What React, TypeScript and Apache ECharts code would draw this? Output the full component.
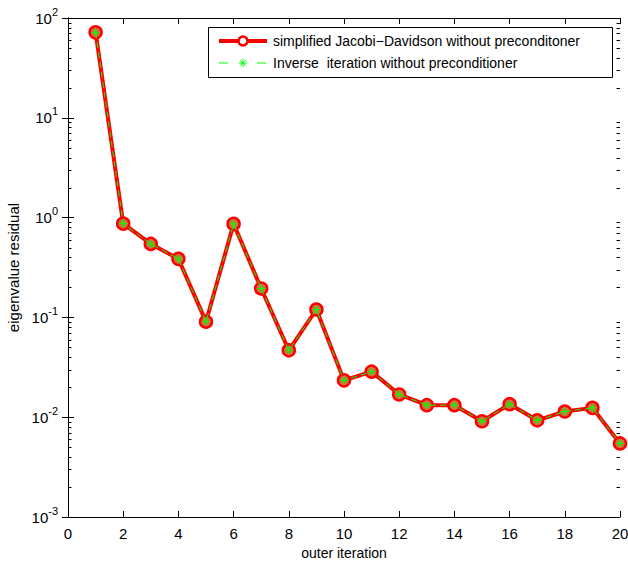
import React, { useEffect, useRef } from "react";
import * as echarts from "echarts";

const iterations = [1, 2, 3, 4, 5, 6, 7, 8, 9, 10, 11, 12, 13, 14, 15, 16, 17, 18, 19, 20];
const jacobiDavidson = [71.8, 0.87, 0.545, 0.386, 0.0906, 0.865, 0.195, 0.0468, 0.12, 0.0234, 0.0286, 0.0169, 0.0132, 0.0132, 0.0091, 0.0135, 0.0093, 0.0114, 0.0124, 0.00546];
const inverseIteration = [71.8, 0.87, 0.545, 0.386, 0.0906, 0.865, 0.195, 0.0468, 0.12, 0.0234, 0.0286, 0.0169, 0.0132, 0.0132, 0.0091, 0.0135, 0.0093, 0.0114, 0.0124, 0.00546];
const seriesNames = [
  "simplified Jacobi\u2212Davidson without preconditoner",
  "Inverse  iteration without preconditioner",
];
const decades = [-3, -2, -1, 0, 1];
const minorMultipliers = [2, 3, 4, 5, 6, 7, 8, 9];

const FONT = "Liberation Sans, Arial, Helvetica, sans-serif";
const STAR = "path://M0,-10L0,10M-10,0L10,0M-7.07,-7.07L7.07,7.07M-7.07,7.07L7.07,-7.07";
const RED = "#ff0000";
const GREEN = "#00ff00";

function starLines(cx: number, cy: number, r: number) {
  const d = r * 0.707;
  const segs = [
    [cx, cy - r, cx, cy + r],
    [cx - r, cy, cx + r, cy],
    [cx - d, cy - d, cx + d, cy + d],
    [cx - d, cy + d, cx + d, cy - d],
  ];
  return segs.map((s) => ({
    type: "line",
    shape: { x1: s[0], y1: s[1], x2: s[2], y2: s[3] },
    style: { stroke: GREEN, lineWidth: 1 },
  }));
}

export default function App() {
  const ref = useRef<HTMLDivElement>(null);
  useEffect(() => {
    if (!ref.current) return;
    const chart = echarts.init(ref.current, undefined, { renderer: "svg" });
    const minorValues: number[][] = [];
    decades.forEach((d) => minorMultipliers.forEach((m) => minorValues.push([0, m * Math.pow(10, d)])));
    const fmt = (v: number) => {
      const e = Math.round(Math.log10(v));
      return `{b|10}{s|${e}}`;
    };
    const axisLine = { show: true, lineStyle: { color: "#000", width: 1 } };
    const lx = 208, ly = 27;
    const option: any = {
      animation: false,
      backgroundColor: "#fff",
      grid: { left: 68, right: 8, top: 18, bottom: 47, containLabel: false, outerBoundsMode: "none" },
      graphic: [
        {
          type: "group",
          z: 100,
          children: [
            { type: "rect", shape: { x: lx + 0.5, y: ly + 0.5, width: 404, height: 50 }, style: { fill: "#fff", stroke: "#000", lineWidth: 1 } },
            { type: "line", shape: { x1: lx + 11, y1: ly + 14, x2: lx + 59, y2: ly + 14 }, style: { stroke: RED, lineWidth: 4 } },
            { type: "circle", shape: { cx: lx + 35, cy: ly + 14, r: 4.5 }, style: { fill: "#fff", stroke: RED, lineWidth: 2.5 } },
            { type: "text", x: lx + 65, y: ly + 14, style: { text: seriesNames[0], font: `14px ${FONT}`, fill: "#000", verticalAlign: "middle", align: "left" } },
            { type: "line", shape: { x1: lx + 11, y1: ly + 36, x2: lx + 20, y2: ly + 36 }, style: { stroke: GREEN, lineWidth: 1 } },
            { type: "line", shape: { x1: lx + 49, y1: ly + 36, x2: lx + 58, y2: ly + 36 }, style: { stroke: GREEN, lineWidth: 1 } },
            ...starLines(lx + 35, ly + 36, 4),
            { type: "text", x: lx + 65, y: ly + 36, style: { text: seriesNames[1], font: `14px ${FONT}`, fill: "#000", verticalAlign: "middle", align: "left" } },
          ],
        },
      ],
      xAxis: [
        {
          type: "value",
          min: 0,
          max: 20,
          interval: 2,
          axisLine,
          axisTick: { inside: true, length: 6, lineStyle: { color: "#000" } },
          axisLabel: { fontFamily: FONT, fontSize: 15, color: "#000", margin: 9 },
          splitLine: { show: false },
          name: "outer iteration",
          nameLocation: "middle",
          nameGap: 29,
          nameTextStyle: { fontFamily: FONT, fontSize: 14, color: "#000" },
        },
        {
          type: "value",
          position: "top",
          min: 0,
          max: 20,
          interval: 2,
          axisLine,
          axisTick: { inside: true, length: 6, lineStyle: { color: "#000" } },
          axisLabel: { show: false },
          splitLine: { show: false },
        },
      ],
      yAxis: [
        {
          type: "log",
          logBase: 10,
          min: 0.001,
          max: 100,
          axisLine,
          axisTick: { inside: true, length: 6, lineStyle: { color: "#000" } },
          axisLabel: {
            formatter: fmt,
            margin: 10,
            rich: {
              b: { fontFamily: FONT, fontSize: 15, color: "#000" },
              s: { fontFamily: FONT, fontSize: 11, color: "#000", padding: [0, 0, 13, 0] },
            },
          },
          splitLine: { show: false },
          name: "eigenvalue residual",
          nameLocation: "middle",
          nameGap: 40,
          nameTextStyle: { fontFamily: FONT, fontSize: 15, color: "#000" },
        },
        {
          type: "log",
          logBase: 10,
          position: "right",
          min: 0.001,
          max: 100,
          axisLine,
          axisTick: { inside: true, length: 6, lineStyle: { color: "#000" } },
          axisLabel: { show: false },
          splitLine: { show: false },
        },
      ],
      series: [
        {
          type: "custom",
          silent: true,
          xAxisIndex: 0,
          yAxisIndex: 0,
          data: minorValues,
          clip: false,
          renderItem: (params: any, api: any) => {
            const cs = params.coordSys;
            const p = api.coord([0, api.value(1)]);
            const y = Math.round(p[1]) + 0.5;
            const x0 = cs.x;
            const x1 = cs.x + cs.width;
            return {
              type: "group",
              children: [
                { type: "line", shape: { x1: x0, y1: y, x2: x0 + 3.5, y2: y }, style: { stroke: "#000", lineWidth: 1 } },
                { type: "line", shape: { x1: x1 - 3.5, y1: y, x2: x1, y2: y }, style: { stroke: "#000", lineWidth: 1 } },
              ],
            };
          },
          z: 1,
        },
        {
          name: seriesNames[0],
          type: "line",
          data: iterations.map((x, i) => [x, jacobiDavidson[i]]),
          lineStyle: { color: RED, width: 4 },
          symbol: "circle",
          symbolSize: 12,
          itemStyle: { color: "#ff5050", borderColor: RED, borderWidth: 2.5 },
          z: 3,
        },
        {
          name: seriesNames[1],
          type: "line",
          data: iterations.map((x, i) => [x, inverseIteration[i]]),
          lineStyle: { color: GREEN, width: 1, type: [6, 4] },
          symbol: STAR,
          symbolSize: 9,
          symbolKeepAspect: true,
          itemStyle: { color: "transparent", borderColor: GREEN, borderWidth: 1 },
          z: 4,
        },
      ],
    };
    chart.setOption(option);
    return () => chart.dispose();
  }, []);
  return <div ref={ref} style={{ position: "fixed", left: 0, top: 0, width: 628, height: 564 }} />;
}
